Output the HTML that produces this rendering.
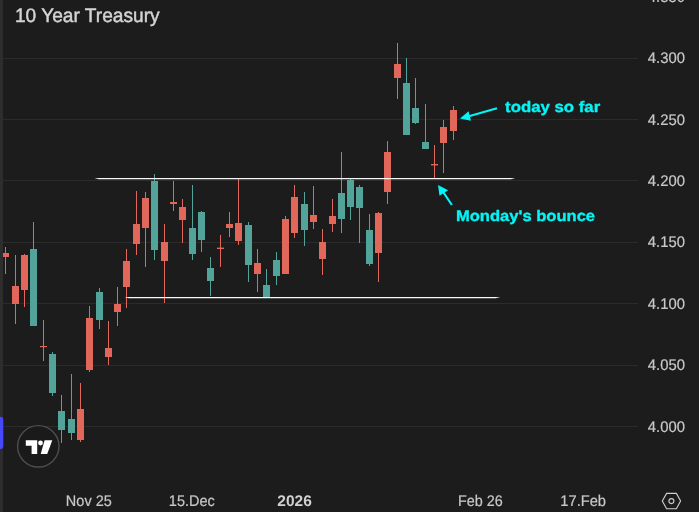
<!DOCTYPE html>
<html><head><meta charset="utf-8"><title>10 Year Treasury</title>
<style>
html,body{margin:0;padding:0;background:#1c1c1c;}
body{width:699px;height:512px;overflow:hidden;position:relative;font-family:"Liberation Sans",sans-serif;}
#chart{will-change:transform;position:absolute;left:0;top:0;width:699px;height:512px;overflow:hidden;background:#1c1c1c;}
svg{position:absolute;left:0;top:0;}
.tx{position:absolute;left:0;top:0;transform-origin:0 0;white-space:nowrap;line-height:1;text-rendering:geometricPrecision;}
.title{font-size:19.5px;color:#d4d4d4;-webkit-text-stroke:0.45px #d4d4d4;}
.yl{font-size:15.4px;color:#c8c8c8;-webkit-text-stroke:0.2px #c8c8c8;}
.xl{font-size:15.4px;color:#c8c8c8;-webkit-text-stroke:0.2px #c8c8c8;}
.xl.b{font-weight:bold;color:#d0d0d0;-webkit-text-stroke:0;}
.note{font-weight:bold;font-size:15.3px;color:#04f5f6;-webkit-text-stroke:0.35px #04f5f6;}
</style></head><body>
<div id="chart">
<svg width="699" height="512" viewBox="0 0 699 512">
<rect x="3" y="58" width="635" height="1" fill="#2b2b2b"/><rect x="3" y="119" width="635" height="1" fill="#2b2b2b"/><rect x="3" y="180" width="635" height="1" fill="#2b2b2b"/><rect x="3" y="242" width="635" height="1" fill="#2b2b2b"/><rect x="3" y="303" width="635" height="1" fill="#2b2b2b"/><rect x="3" y="365" width="635" height="1" fill="#2b2b2b"/><rect x="3" y="426" width="635" height="1" fill="#2b2b2b"/>
<rect x="5" y="247" width="1" height="27" fill="#e0675a"/>
<rect x="2" y="253" width="7" height="4" fill="#e0675a"/>
<rect x="15" y="255" width="1" height="69" fill="#e0675a"/>
<rect x="12" y="286" width="7" height="18" fill="#e0675a"/>
<rect x="24" y="254" width="1" height="53" fill="#e0675a"/>
<rect x="21" y="255" width="7" height="35" fill="#e0675a"/>
<rect x="33" y="222" width="1" height="104" fill="#52a49b"/>
<rect x="30" y="249" width="7" height="77" fill="#52a49b"/>
<rect x="43" y="320" width="1" height="41" fill="#e0675a"/>
<rect x="40" y="346" width="7" height="1.2" fill="#e0675a"/>
<rect x="52" y="352" width="1" height="44" fill="#52a49b"/>
<rect x="49" y="354" width="7" height="39" fill="#52a49b"/>
<rect x="61" y="395" width="1" height="48" fill="#52a49b"/>
<rect x="58" y="411" width="7" height="19" fill="#52a49b"/>
<rect x="71" y="374" width="1" height="66" fill="#52a49b"/>
<rect x="68" y="419" width="7" height="14" fill="#52a49b"/>
<rect x="80" y="383" width="1" height="59" fill="#e0675a"/>
<rect x="77" y="409" width="7" height="31" fill="#e0675a"/>
<rect x="89" y="306" width="1" height="66" fill="#e0675a"/>
<rect x="86" y="318" width="7" height="52" fill="#e0675a"/>
<rect x="99" y="288" width="1" height="41" fill="#52a49b"/>
<rect x="96" y="292" width="7" height="28" fill="#52a49b"/>
<rect x="108" y="321" width="1" height="44" fill="#e0675a"/>
<rect x="105" y="348" width="7" height="9" fill="#e0675a"/>
<rect x="117" y="287" width="1" height="39" fill="#e0675a"/>
<rect x="114" y="304" width="7" height="8" fill="#e0675a"/>
<rect x="126" y="249" width="1" height="59" fill="#e0675a"/>
<rect x="123" y="261" width="7" height="26" fill="#e0675a"/>
<rect x="136" y="191" width="1" height="64" fill="#e0675a"/>
<rect x="133" y="224" width="7" height="20" fill="#e0675a"/>
<rect x="145" y="192" width="1" height="75" fill="#e0675a"/>
<rect x="142" y="198" width="7" height="30" fill="#e0675a"/>
<rect x="154" y="174" width="1" height="86" fill="#52a49b"/>
<rect x="151" y="181" width="7" height="69" fill="#52a49b"/>
<rect x="164" y="224" width="1" height="79" fill="#e0675a"/>
<rect x="161" y="242" width="7" height="19" fill="#e0675a"/>
<rect x="173" y="181" width="1" height="30" fill="#e0675a"/>
<rect x="170" y="202" width="7" height="2" fill="#e0675a"/>
<rect x="182" y="199" width="1" height="44" fill="#e0675a"/>
<rect x="179" y="207" width="7" height="13" fill="#e0675a"/>
<rect x="192" y="185" width="1" height="75" fill="#52a49b"/>
<rect x="189" y="228" width="7" height="26" fill="#52a49b"/>
<rect x="201" y="211" width="1" height="41" fill="#52a49b"/>
<rect x="198" y="212" width="7" height="28" fill="#52a49b"/>
<rect x="210" y="257" width="1" height="39" fill="#52a49b"/>
<rect x="207" y="268" width="7" height="13" fill="#52a49b"/>
<rect x="220" y="235" width="1" height="32" fill="#e0675a"/>
<rect x="217" y="247.6" width="7" height="1.4" fill="#e0675a"/>
<rect x="229" y="212" width="1" height="25" fill="#e0675a"/>
<rect x="226" y="224" width="7" height="4" fill="#e0675a"/>
<rect x="238" y="179" width="1" height="66" fill="#e0675a"/>
<rect x="235" y="223" width="7" height="18" fill="#e0675a"/>
<rect x="248" y="222" width="1" height="60" fill="#52a49b"/>
<rect x="245" y="225" width="7" height="40" fill="#52a49b"/>
<rect x="257" y="249" width="1" height="43" fill="#e0675a"/>
<rect x="254" y="263" width="7" height="11" fill="#e0675a"/>
<rect x="266" y="269" width="1" height="28" fill="#52a49b"/>
<rect x="263" y="285" width="7" height="12" fill="#52a49b"/>
<rect x="276" y="252" width="1" height="33" fill="#52a49b"/>
<rect x="273" y="260" width="7" height="16" fill="#52a49b"/>
<rect x="285" y="216" width="1" height="58" fill="#e0675a"/>
<rect x="282" y="219" width="7" height="55" fill="#e0675a"/>
<rect x="294" y="185" width="1" height="53" fill="#e0675a"/>
<rect x="291" y="197" width="7" height="36" fill="#e0675a"/>
<rect x="304" y="192" width="1" height="54" fill="#52a49b"/>
<rect x="301" y="204" width="7" height="26" fill="#52a49b"/>
<rect x="313" y="186" width="1" height="43" fill="#e0675a"/>
<rect x="310" y="215" width="7" height="7" fill="#e0675a"/>
<rect x="322" y="229" width="1" height="46" fill="#e0675a"/>
<rect x="319" y="242" width="7" height="17" fill="#e0675a"/>
<rect x="332" y="199" width="1" height="33" fill="#e0675a"/>
<rect x="329" y="216" width="7" height="8" fill="#e0675a"/>
<rect x="341" y="152" width="1" height="81" fill="#52a49b"/>
<rect x="338" y="193" width="7" height="26" fill="#52a49b"/>
<rect x="350" y="179" width="1" height="41" fill="#52a49b"/>
<rect x="347" y="180" width="7" height="27" fill="#52a49b"/>
<rect x="359" y="185" width="1" height="58" fill="#52a49b"/>
<rect x="356" y="187" width="7" height="21" fill="#52a49b"/>
<rect x="369" y="214" width="1" height="52" fill="#52a49b"/>
<rect x="366" y="230" width="7" height="34" fill="#52a49b"/>
<rect x="378" y="212" width="1" height="70" fill="#e0675a"/>
<rect x="375" y="213" width="7" height="40" fill="#e0675a"/>
<rect x="387" y="141" width="1" height="63" fill="#e0675a"/>
<rect x="384" y="152" width="7" height="40" fill="#e0675a"/>
<rect x="397" y="43" width="1" height="56" fill="#e0675a"/>
<rect x="394" y="64" width="7" height="14" fill="#e0675a"/>
<rect x="406" y="58" width="1" height="77" fill="#52a49b"/>
<rect x="403" y="83" width="7" height="52" fill="#52a49b"/>
<rect x="415" y="78" width="1" height="46" fill="#52a49b"/>
<rect x="412" y="108" width="7" height="15" fill="#52a49b"/>
<rect x="425" y="104" width="1" height="45" fill="#52a49b"/>
<rect x="422" y="142" width="7" height="7" fill="#52a49b"/>
<rect x="434" y="145" width="1" height="33" fill="#e0675a"/>
<rect x="431" y="164" width="7" height="1.4" fill="#e0675a"/>
<rect x="443" y="120" width="1" height="53" fill="#e0675a"/>
<rect x="440" y="127" width="7" height="16" fill="#e0675a"/>
<rect x="453" y="106" width="1" height="34" fill="#e0675a"/>
<rect x="450" y="110" width="7" height="21" fill="#e0675a"/>
<rect x="0" y="0" width="3" height="512" fill="#2d2d2d"/>
<!-- horizontal white lines -->
<path d="M94.5 178.55 L99 177.95 H510.5 L515.3 178.55 L510.5 179.2 H99 Z" fill="#f8f8f8"/>
<path d="M124.5 297.5 L129 296.95 H495.5 L500.3 297.5 L495.5 298.2 H129 Z" fill="#f8f8f8"/>
<!-- arrows -->
<g fill="#04f5f6" stroke="none">
<path d="M460.0 118.6 L468.6 111.2 L469.45 114.89 L496.65 107.24 L497.25 109.36 L470.05 117.01 L470.9 120.7 Z"/>
<path d="M438.0 184.9 L448.1 190.2 L444.71 192.39 L452.8 204.4 L451.0 205.6 L442.89 193.61 L439.5 195.8 Z"/>
</g>
<!-- blue tab -->
<rect x="-3" y="416.8" width="6.3" height="32.3" rx="3" fill="#4848fb"/>
<!-- TV logo -->
<circle cx="38.3" cy="446.3" r="20.7" fill="#1a1a1a" stroke="#4e4e4e" stroke-width="1.4"/>
<g fill="#ffffff">
<path d="M25.8 440.2 H37.2 V454 H31.6 V445.7 H25.8 Z"/>
<circle cx="40.5" cy="443" r="2.4"/>
<path d="M44.6 440.2 H52.3 L47.2 454 H40.7 Z"/>
</g>
<!-- settings hex icon -->
<g fill="none" stroke="#d0d0d0" stroke-width="1.1">
<path d="M662.3 501 L666.6 493.4 H676.4 L680.6 501 L676.4 508.7 H666.6 Z"/>
<circle cx="671.4" cy="501.1" r="2.5"/>
</g>
</svg>
<div id="t0" class="tx title" style="transform:translate(14.91px,7.00px) scaleX(0.9812)">10 Year Treasury</div>
<div id="y0" class="tx yl" style="transform:translate(647.75px,-10.00px) scaleX(0.9648)">4.350</div>
<div id="y1" class="tx yl" style="transform:translate(647.75px,51.00px) scaleX(0.9648)">4.300</div>
<div id="y2" class="tx yl" style="transform:translate(647.75px,113.00px) scaleX(0.9648)">4.250</div>
<div id="y3" class="tx yl" style="transform:translate(647.75px,174.00px) scaleX(0.9648)">4.200</div>
<div id="y4" class="tx yl" style="transform:translate(647.75px,235.00px) scaleX(0.9648)">4.150</div>
<div id="y5" class="tx yl" style="transform:translate(647.75px,297.00px) scaleX(0.9648)">4.100</div>
<div id="y6" class="tx yl" style="transform:translate(647.75px,358.00px) scaleX(0.9648)">4.050</div>
<div id="y7" class="tx yl" style="transform:translate(647.75px,420.00px) scaleX(0.9648)">4.000</div>
<div id="x0" class="tx xl" style="transform:translate(65.87px,494.00px) scaleX(0.9409)">Nov 25</div>
<div id="x1" class="tx xl" style="transform:translate(168.85px,494.00px) scaleX(0.9413)">15.Dec</div>
<div id="x2" class="tx xl b" style="transform:translate(277.27px,494.00px) scaleX(1.0081)">2026</div>
<div id="x3" class="tx xl" style="transform:translate(457.91px,494.00px) scaleX(0.9329)">Feb 26</div>
<div id="x4" class="tx xl" style="transform:translate(560.30px,494.00px) scaleX(0.9538)">17.Feb</div>
<div id="n0" class="tx note" style="transform:translate(505.09px,100.00px) scaleX(1.0972)">today so far</div>
<div id="n1" class="tx note" style="transform:translate(455.98px,209.00px) scaleX(1.0817)">Monday's bounce</div>
</div>
</body></html>
